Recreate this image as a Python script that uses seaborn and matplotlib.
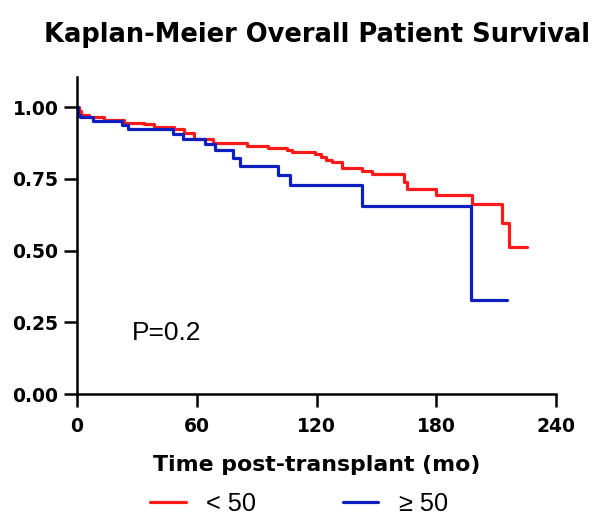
import matplotlib
matplotlib.use("Agg")
import matplotlib.pyplot as plt
import seaborn as sns
import pandas as pd
from matplotlib.ticker import FormatStrFormatter

# Data
red_label = "< 50"
blue_label = "\u2265 50"
red_t = [0, 1, 2, 6, 13.5, 23.5, 33.5, 38.5, 48.5, 53.5, 58.5, 68, 85, 95.5, 105, 107.5,
         119, 122.5, 125, 128, 133, 143, 148, 164, 165.5, 180, 198, 213, 216.5, 225.5]
red_s = [1.0, 0.985, 0.972, 0.966, 0.955, 0.945, 0.94, 0.931, 0.923, 0.909, 0.89, 0.874,
         0.865, 0.858, 0.851, 0.844, 0.836, 0.827, 0.817, 0.807, 0.788, 0.776, 0.766, 0.74,
         0.716, 0.695, 0.661, 0.596, 0.511, 0.511]
blue_t = [0, 0.5, 1.5, 8, 22.5, 25.5, 48, 53, 64, 69, 78, 81.5, 100.5, 106.5, 143, 197.5, 215.5]
blue_s = [1.0, 0.972, 0.964, 0.951, 0.939, 0.925, 0.908, 0.889, 0.872, 0.849, 0.822, 0.796,
          0.765, 0.729, 0.654, 0.329, 0.329]
x_ticks = [0, 60, 120, 180, 240]
y_ticks = [0.0, 0.25, 0.5, 0.75, 1.0]
title = "Kaplan-Meier Overall Patient Survival"
xlabel = "Time post-transplant (mo)"
p_text = "P=0.2"

df = pd.concat([
    pd.DataFrame({"t": red_t, "S": red_s, "group": red_label}),
    pd.DataFrame({"t": blue_t, "S": blue_s, "group": blue_label}),
], ignore_index=True)

sns.set_theme(style="ticks")
plt.rcParams["font.family"] = ["Liberation Sans", "DejaVu Sans"]
for k in ["text.color", "axes.labelcolor", "xtick.color", "ytick.color", "axes.edgecolor"]:
    plt.rcParams[k] = "black"

BOLD = ["DejaVu Sans"]

fig = plt.figure(figsize=(5.98, 5.16), dpi=100)
ax = fig.add_axes([77 / 598, 1 - 394 / 516, 479 / 598, 317 / 516])

palette = {red_label: "#FF1A1A", blue_label: "#0D1FBF"}
sns.lineplot(data=df, x="t", y="S", hue="group", palette=palette, estimator=None,
             sort=False, drawstyle="steps-post", linewidth=2.3, ax=ax, legend=True)

ax.set_xlim(0, 240)
ax.set_ylim(0, 1.105)
ax.set_xticks(x_ticks)
ax.set_yticks(y_ticks)
ax.yaxis.set_major_formatter(FormatStrFormatter("%.2f"))
for s in ["top", "right"]:
    ax.spines[s].set_visible(False)
for s in ["left", "bottom"]:
    ax.spines[s].set_linewidth(1.8)
    ax.spines[s].set_color("black")
ax.tick_params(axis="both", direction="out", length=9.4, width=1.8, colors="black",
               labelsize=13.5)
ax.tick_params(axis="x", pad=7)
ax.tick_params(axis="y", pad=4)
for lab in ax.get_xticklabels() + ax.get_yticklabels():
    lab.set_fontweight("bold")
    lab.set_family(BOLD)

ax.set_xlabel(xlabel, fontsize=15.8, fontweight="bold", family=BOLD, labelpad=14)
ax.set_ylabel("")
ax.set_title(title, fontsize=18.5, fontweight="bold", family=BOLD, pad=25)
ax.text(27.5, 0.2126, p_text, fontsize=19, va="center", ha="left")

handles, labels = ax.get_legend_handles_labels()
ax.legend(handles, labels, loc="center", bbox_to_anchor=(0.5, 0.024),
          bbox_transform=fig.transFigure, ncol=2, frameon=False, fontsize=18.3,
          handlelength=1.4, columnspacing=3.4, handletextpad=0.8)

fig.savefig("out.png", dpi=100)
